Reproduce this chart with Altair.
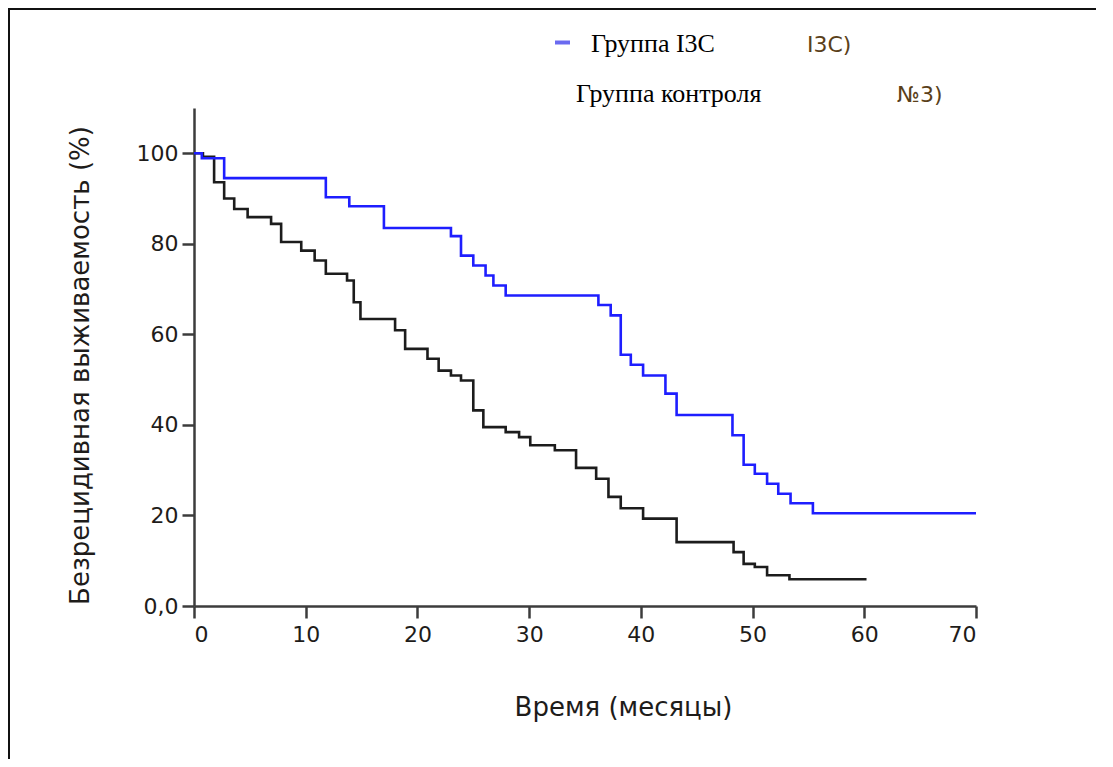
import altair as alt
import pandas as pd

# ---- data ----
months_i3c = [0, 0.7, 2.7, 11.8, 13.9, 17.0, 23.0, 23.9, 25.0, 26.1, 26.8, 27.9,
              36.2, 37.3, 38.2, 39.1, 40.2, 42.2, 43.2, 48.2, 49.2, 50.2, 51.3,
              52.3, 53.4, 55.4, 70.0]
surv_i3c = [100, 98.9, 94.5, 90.3, 88.3, 83.5, 81.7, 77.4, 75.2, 73.0, 70.8, 68.6,
            66.5, 64.2, 55.5, 53.3, 50.9, 46.9, 42.2, 37.7, 31.2, 29.2, 27.0,
            24.8, 22.7, 20.5, 20.5]

months_ctrl = [0, 0.8, 1.8, 2.7, 3.6, 4.8, 6.9, 7.8, 9.6, 10.8, 11.8, 13.7, 14.3,
               14.9, 18.0, 18.9, 20.9, 21.9, 23.0, 23.9, 25.0, 25.9, 27.9, 29.1,
               30.1, 32.3, 34.2, 36.0, 37.1, 38.2, 40.2, 43.2, 48.3, 49.2, 50.2,
               51.3, 53.3, 60.2]
surv_ctrl = [100, 99.2, 93.6, 90.0, 87.7, 85.9, 84.4, 80.4, 78.5, 76.3, 73.4, 71.9,
             67.1, 63.4, 60.9, 56.8, 54.6, 52.0, 50.9, 49.8, 43.2, 39.5, 38.4, 37.3,
             35.5, 34.4, 30.5, 28.1, 24.1, 21.6, 19.3, 14.1, 11.9, 9.3, 8.6,
             6.8, 5.9, 5.9]

x_ticks = [0, 10, 20, 30, 40, 50, 60, 70]
y_ticks = [0, 20, 40, 60, 80, 100]

x_title = "Время (месяцы)"
y_title = "Безрецидивная выживаемость (%)"
legend_i3c = "Группа I3C"
legend_i3c_tail = "I3C)"
legend_ctrl = "Группа контроля"
legend_ctrl_tail = "№3)"

df_i3c = pd.DataFrame({"t": months_i3c, "s": surv_i3c})
df_ctrl = pd.DataFrame({"t": months_ctrl, "s": surv_ctrl})
one = pd.DataFrame({"k": [0]})

W, H = 782, 498
LABEL_COLOR = "#1e1c1a"

x_enc = alt.X("t:Q", scale=alt.Scale(domain=[0, 70], nice=False, zero=False),
              axis=alt.Axis(values=x_ticks, title=x_title, grid=False,
                            domainColor="#3c3c3c", domainWidth=2.5,
                            tickColor="#3c3c3c", tickWidth=2.5, tickSize=12,
                            labelFont="DejaVu Sans", labelFontSize=22,
                            labelColor=LABEL_COLOR, labelPadding=6,
                            titleFont="DejaVu Sans", titleFontSize=26,
                            titleFontWeight="normal", titleColor=LABEL_COLOR,
                            titleX=429, titleY=101, titleAlign="center",
                            titleBaseline="middle"))
y_enc = alt.Y("s:Q", scale=alt.Scale(domain=[0, 110], nice=False, zero=False),
              axis=alt.Axis(values=y_ticks, title=y_title, grid=False,
                            labelExpr="datum.value == 0 ? '0,0' : datum.label",
                            domainColor="#3c3c3c", domainWidth=2.5,
                            tickColor="#3c3c3c", tickWidth=2.5, tickSize=12,
                            labelFont="DejaVu Sans", labelFontSize=22,
                            labelColor=LABEL_COLOR, labelPadding=4,
                            titleFont="DejaVu Sans", titleFontSize=26,
                            titleFontWeight="normal", titleColor=LABEL_COLOR,
                            titleX=-114, titleY=257, titleAngle=270,
                            titleAlign="center", titleBaseline="middle"))

ctrl_line = alt.Chart(df_ctrl).mark_line(
    interpolate="step-after", color="#1c1c1c", strokeWidth=2.6
).encode(x=x_enc, y=y_enc)

i3c_line = alt.Chart(df_i3c).mark_line(
    interpolate="step-after", color="#1e1eff", strokeWidth=2.6
).encode(x="t:Q", y="s:Q")

# frame lines (left and top)
frame_left = alt.Chart(one).mark_rule(color="#111111", strokeWidth=2).encode(
    x=alt.value(-185), y=alt.value(-100), y2=alt.value(H + 153))
frame_top = alt.Chart(one).mark_rule(color="#111111", strokeWidth=2).encode(
    x=alt.value(-186), x2=alt.value(W + 120), y=alt.value(-99))

# legend
marker = alt.Chart(one).mark_rule(color="#6a6af0", strokeWidth=4).encode(
    x=alt.value(361), x2=alt.value(376), y=alt.value(-65.5))


def text_layer(txt, x, y, font, size, color):
    return alt.Chart(pd.DataFrame({"txt": [txt]})).mark_text(
        align="left", baseline="alphabetic", font=font, fontSize=size,
        color=color
    ).encode(text="txt:N", x=alt.value(x), y=alt.value(y))


leg1 = text_layer(legend_i3c, 397, -56, "Liberation Serif", 26, "#000000")
leg1b = text_layer(legend_i3c_tail, 613, -56, "DejaVu Sans", 22, "#5a3f1a")
leg2 = text_layer(legend_ctrl, 382, -6, "Liberation Serif", 26, "#000000")
leg2b = text_layer(legend_ctrl_tail, 703, -6, "DejaVu Sans", 22, "#5a3f1a")

chart = alt.layer(
    ctrl_line, i3c_line, frame_left, frame_top, marker, leg1, leg1b, leg2, leg2b
).properties(
    width=W, height=H,
    background="white",
    autosize=alt.AutoSizeParams(type="none"),
    padding={"left": 186, "top": 100, "right": 120, "bottom": 153},
).configure_view(strokeWidth=0, stroke="transparent")

chart.save("out.html", embed_options={"renderer": "svg", "actions": False})
